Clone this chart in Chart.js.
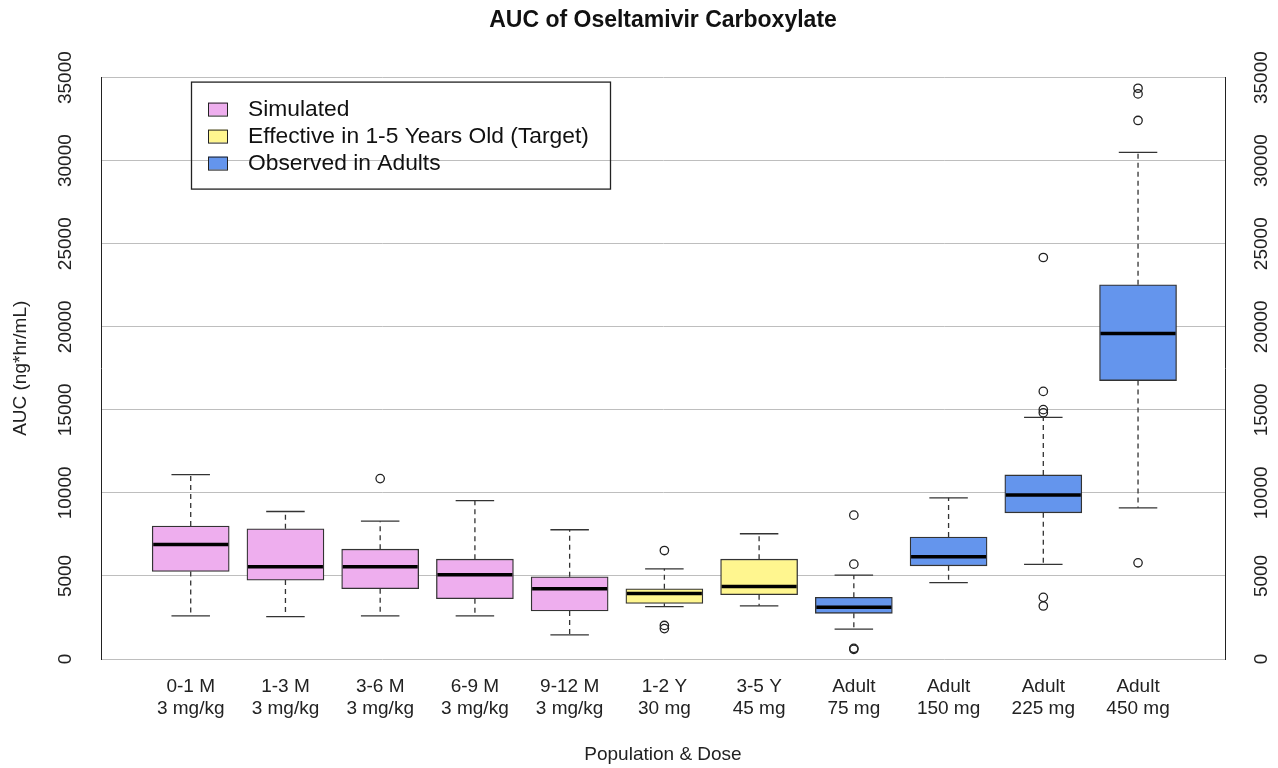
<!DOCTYPE html>
<html lang="en">
<head>
<meta charset="UTF-8">
<title>AUC of Oseltamivir Carboxylate</title>
<script src="https://cdn.jsdelivr.net/npm/chart.js@4.4.1/dist/chart.umd.min.js"></script>
<style>
  body { margin: 0; background: #fff; }
  #wrap { width: 1278px; height: 768px; }
</style>
</head>
<body>
<div id="wrap"><canvas id="aucChart"></canvas></div>
<script>
// categories
const populations = ['0-1 M', '1-3 M', '3-6 M', '6-9 M', '9-12 M', '1-2 Y', '3-5 Y', 'Adult', 'Adult', 'Adult', 'Adult'];
const doses = ['3 mg/kg', '3 mg/kg', '3 mg/kg', '3 mg/kg', '3 mg/kg', '30 mg', '45 mg', '75 mg', '150 mg', '225 mg', '450 mg'];
const groupOf = [0, 0, 0, 0, 0, 1, 1, 2, 2, 2, 2];
const groupNames = ['Simulated', 'Effective in 1-5 Years Old (Target)', 'Observed in Adults'];
const groupColors = ['#EEAEEE', '#FFF68F', '#6495ED'];

// box statistics (ng*hr/mL)
const whiskerLow  = [2600, 2550, 2600, 2600, 1450, 3150, 3200, 1800, 4600, 5700, 9100];
const q1          = [5270, 4750, 4230, 3630, 2890, 3350, 3870, 2750, 5610, 8800, 16760];
const medians     = [6900, 5550, 5550, 5070, 4230, 3950, 4370, 3110, 6150, 9880, 19590];
const q3          = [8000, 7840, 6610, 6010, 4950, 4230, 6010, 3710, 7340, 11080, 22530];
const whiskerHigh = [11100, 8880, 8300, 9540, 7780, 5430, 7540, 5050, 9700, 14550, 30500];
const outliers = [[], [], [10860], [], [], [6530, 2020, 1830], [], [8660, 5710, 640, 580], [],
                  [24170, 16110, 15010, 14820, 3710, 3190], [34360, 34020, 32420, 5790]];

const yTicks = [0, 5000, 10000, 15000, 20000, 25000, 30000, 35000];

const FONT = "'Liberation Sans', Arial, sans-serif";
Chart.defaults.font.family = FONT;
Chart.defaults.color = '#222';

const boxSets = groupNames.map((name, g) => ({
    type: 'bar',
    label: name,
    data: populations.map((p, i) => ({ x: i + 1, y: [q1[i], q3[i]] })).filter((d, i) => groupOf[i] === g),
    backgroundColor: groupColors[g],
    borderColor: '#333',
    borderWidth: 1.3,
    borderSkipped: false,
    barThickness: 77,
    grouped: false
}));

const outlierSet = {
    type: 'scatter',
    label: 'outliers',
    data: outliers.flatMap((vals, i) => vals.map(v => ({ x: i + 1, y: v }))),
    pointStyle: 'circle',
    pointRadius: 4.2,
    borderWidth: 1.3,
    borderColor: '#222',
    backgroundColor: 'rgba(0,0,0,0)',
    showLine: false
};

function line(ctx, x1, y1, x2, y2) {
    ctx.beginPath();
    ctx.moveTo(x1, y1);
    ctx.lineTo(x2, y2);
    ctx.stroke();
}

// whiskers, caps and medians
const whiskerPlugin = {
    id: 'whiskers',
    afterDatasetsDraw(chart) {
        const ctx = chart.ctx;
        const ys = chart.scales.y;
        ctx.save();
        chart.data.datasets.forEach((ds, di) => {
            if (ds.type !== 'bar') return;
            chart.getDatasetMeta(di).data.forEach((bar, j) => {
                const i = ds.data[j].x - 1;
                const cx = bar.x, half = bar.width / 2;
                const yLo = ys.getPixelForValue(whiskerLow[i]);
                const yHi = ys.getPixelForValue(whiskerHigh[i]);
                const yQ1 = ys.getPixelForValue(q1[i]);
                const yQ3 = ys.getPixelForValue(q3[i]);
                const yMed = ys.getPixelForValue(medians[i]);
                ctx.strokeStyle = '#333';
                ctx.lineWidth = 1.3;
                ctx.setLineDash([5, 4]);
                line(ctx, cx, yQ3, cx, yHi);
                line(ctx, cx, yQ1, cx, yLo);
                ctx.setLineDash([]);
                line(ctx, cx - half / 2, yHi, cx + half / 2, yHi);
                line(ctx, cx - half / 2, yLo, cx + half / 2, yLo);
                ctx.strokeStyle = '#000';
                ctx.lineWidth = 3.5;
                line(ctx, cx - half + 1, yMed, cx + half - 1, yMed);
            });
        });
        ctx.restore();
    }
};

// legend box inside the plot
const legendPlugin = {
    id: 'boxLegend',
    afterDatasetsDraw(chart) {
        const ctx = chart.ctx;
        const ca = chart.chartArea;
        const left = ca.left + 90, top = ca.top + 4;
        ctx.save();
        ctx.strokeStyle = '#222';
        ctx.lineWidth = 1.3;
        ctx.strokeRect(left + 0.5, top + 0.5, 419, 107);
        ctx.font = '22.8px ' + FONT;
        ctx.textAlign = 'left';
        ctx.textBaseline = 'middle';
        groupNames.forEach((name, g) => {
            const cy = top + 27 + g * 27;
            ctx.fillStyle = groupColors[g];
            ctx.fillRect(left + 17, cy - 6, 19, 13);
            ctx.lineWidth = 1;
            ctx.strokeRect(left + 17.5, cy - 5.5, 19, 13);
            ctx.fillStyle = '#111';
            ctx.fillText(name, left + 57, cy + 1);
        });
        ctx.restore();
    }
};

// rotated tick labels on both sides
const yLabelPlugin = {
    id: 'yLabels',
    afterDraw(chart) {
        const ctx = chart.ctx;
        const ys = chart.scales.y;
        const ca = chart.chartArea;
        ctx.save();
        ctx.font = '19px ' + FONT;
        ctx.fillStyle = '#222';
        ctx.textAlign = 'center';
        ctx.textBaseline = 'middle';
        yTicks.forEach(v => {
            const py = ys.getPixelForValue(v);
            [ca.left - 35, ca.right + 37].forEach(px => {
                ctx.save();
                ctx.translate(px, py);
                ctx.rotate(-Math.PI / 2);
                ctx.fillText(String(v), 0, 0);
                ctx.restore();
            });
        });
        ctx.restore();
    }
};

new Chart(document.getElementById('aucChart'), {
    type: 'bar',
    data: { datasets: [...boxSets, outlierSet] },
    options: {
        responsive: true,
        maintainAspectRatio: false,
        animation: false,
        layout: { padding: 0 },
        plugins: {
            legend: { display: false },
            tooltip: { enabled: false },
            title: {
                display: true,
                text: 'AUC of Oseltamivir Carboxylate',
                fullSize: false,
                color: '#111',
                font: { size: 23, weight: 'bold' },
                padding: { top: 7, bottom: 43 }
            }
        },
        scales: {
            x: {
                type: 'linear',
                min: 0.053,
                max: 11.918,
                offset: false,
                afterBuildTicks: s => { s.ticks = populations.map((p, i) => ({ value: i + 1 })); },
                afterFit: s => { s.height = 109; },
                grid: { display: false, drawTicks: false },
                border: { display: false },
                ticks: {
                    autoSkip: false,
                    maxRotation: 0,
                    padding: 16,
                    color: '#222',
                    font: { size: 19 },
                    callback: v => [populations[v - 1], doses[v - 1]]
                },
                title: {
                    display: true,
                    text: 'Population & Dose',
                    color: '#222',
                    font: { size: 19 },
                    padding: { top: 0, bottom: 2 }
                }
            },
            y: {
                position: 'left',
                min: 0,
                max: 35000,
                z: 1,
                afterFit: s => { s.width = 101; },
                ticks: { display: false, stepSize: 5000 },
                grid: { color: '#bebebe', lineWidth: 1, drawTicks: false },
                border: { display: true, color: '#222', width: 1 },
                title: {
                    display: true,
                    text: 'AUC (ng*hr/mL)',
                    color: '#222',
                    font: { size: 19 },
                    padding: { top: 9, bottom: 0 }
                }
            },
            y2: {
                position: 'right',
                min: 0,
                max: 35000,
                afterFit: s => { s.width = 53; },
                ticks: { display: false, stepSize: 5000 },
                grid: { display: false, drawTicks: false },
                border: { display: true, color: '#222', width: 1 }
            }
        }
    },
    plugins: [whiskerPlugin, legendPlugin, yLabelPlugin]
});
</script>
</body>
</html>
